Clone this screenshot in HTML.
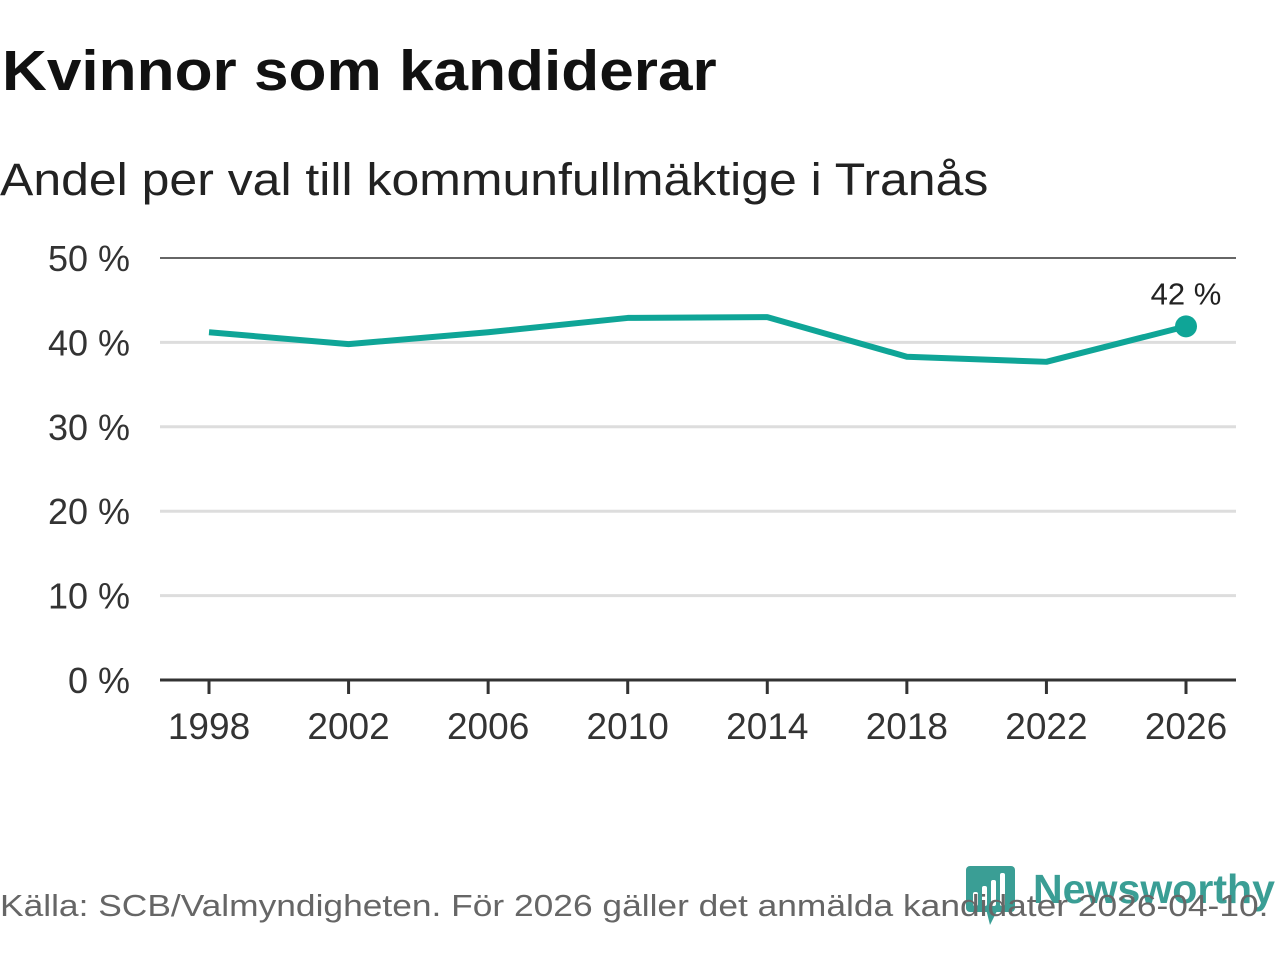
<!DOCTYPE html>
<html><head><meta charset="utf-8"><style>
body{margin:0;width:1280px;height:960px;background:#fff;font-family:"Liberation Sans","DejaVu Sans",sans-serif;overflow:hidden;position:relative}
#title{position:absolute;left:2px;top:38px;font-size:57px;font-weight:bold;color:#111;margin:0;transform:scaleX(1.09);transform-origin:left top;white-space:nowrap}
#sub{position:absolute;left:0;top:154px;font-size:45px;color:#222;transform:scaleX(1.11);transform-origin:left top;white-space:nowrap}
#src{position:absolute;left:0;top:888px;font-size:31px;color:#666;z-index:2;transform:scaleX(1.14);transform-origin:left top;white-space:nowrap}
</style></head><body>
<h1 id="title">Kvinnor som kandiderar</h1>
<div id="sub">Andel per val till kommunfullmäktige i Tranås</div>
<svg id="chart" width="1280" height="960" style="position:absolute;left:0;top:0">
<g id="logo">
<rect x="966" y="866" width="49" height="46" rx="4" fill="#3a9e95"/>
<polygon points="985,905 1000,905 990,925" fill="#3a9e95"/>
<rect x="973" y="892" width="5" height="14" rx="2" fill="#fff"/>
<rect x="982" y="886" width="5" height="20" rx="2" fill="#fff"/>
<rect x="991" y="880" width="5" height="26" rx="2" fill="#fff"/>
<rect x="1000" y="873" width="5" height="33" rx="2" fill="#fff"/>
<text x="1033" y="903" font-size="41" font-weight="bold" fill="#3a9e95" font-family="Liberation Sans, sans-serif" textLength="242" lengthAdjust="spacingAndGlyphs">Newsworthy</text>
</g>
</svg>
<div id="src">Källa: SCB/Valmyndigheten. För 2026 gäller det anmälda kandidater 2026-04-10.</div>
<script>
const years=[1998,2002,2006,2010,2014,2018,2022,2026];
const values=[41.2,39.8,41.2,42.9,43.0,38.3,37.7,41.9];
const yTicks=[0,10,20,30,40,50];
const yTickLabels=["0 %","10 %","20 %","30 %","40 %","50 %"];
const lastLabel="42 %";
const svg=document.getElementById('chart');
const NS='http://www.w3.org/2000/svg';
const x=v=>209+(v-1998)*(1186-209)/28;
const y=v=>680-v*(680-258)/50;
function mk(t,a){const e=document.createElementNS(NS,t);for(const k in a)e.setAttribute(k,a[k]);svg.appendChild(e);return e;}
yTicks.forEach((t,i)=>{
 const g=mk('line',{x1:160,x2:1236,y1:y(t),y2:y(t),stroke:t==50?'#666':(t==0?'#333':'#ddd'),'stroke-width':t==0?3:(t==50?2:3)});
 
 
 const l=mk('text',{x:130,y:y(t)+13,'text-anchor':'end','font-size':36,fill:'#333'});
 l.textContent=yTickLabels[i];
 
 
});
years.forEach(yr=>{
 const tk=mk('line',{x1:x(yr),x2:x(yr),y1:680,y2:694,stroke:'#333','stroke-width':3});
 
 
 const l=mk('text',{x:x(yr),y:739,'text-anchor':'middle','font-size':37,fill:'#333'});
 l.textContent=yr;
 
 
});
const p=mk('polyline',{points:years.map((yr,i)=>x(yr)+','+y(values[i])).join(' '),fill:'none',stroke:'#0fa597','stroke-width':6,'stroke-linejoin':'round'});


const n=years.length-1;
const c=mk('circle',{cx:x(years[n]),cy:y(values[n]),r:11,fill:'#0fa597'});


const lt=mk('text',{x:x(years[n]),y:y(values[n])-22,'text-anchor':'middle','font-size':31,fill:'#222'});
lt.textContent=lastLabel;


</script>
</body></html>
